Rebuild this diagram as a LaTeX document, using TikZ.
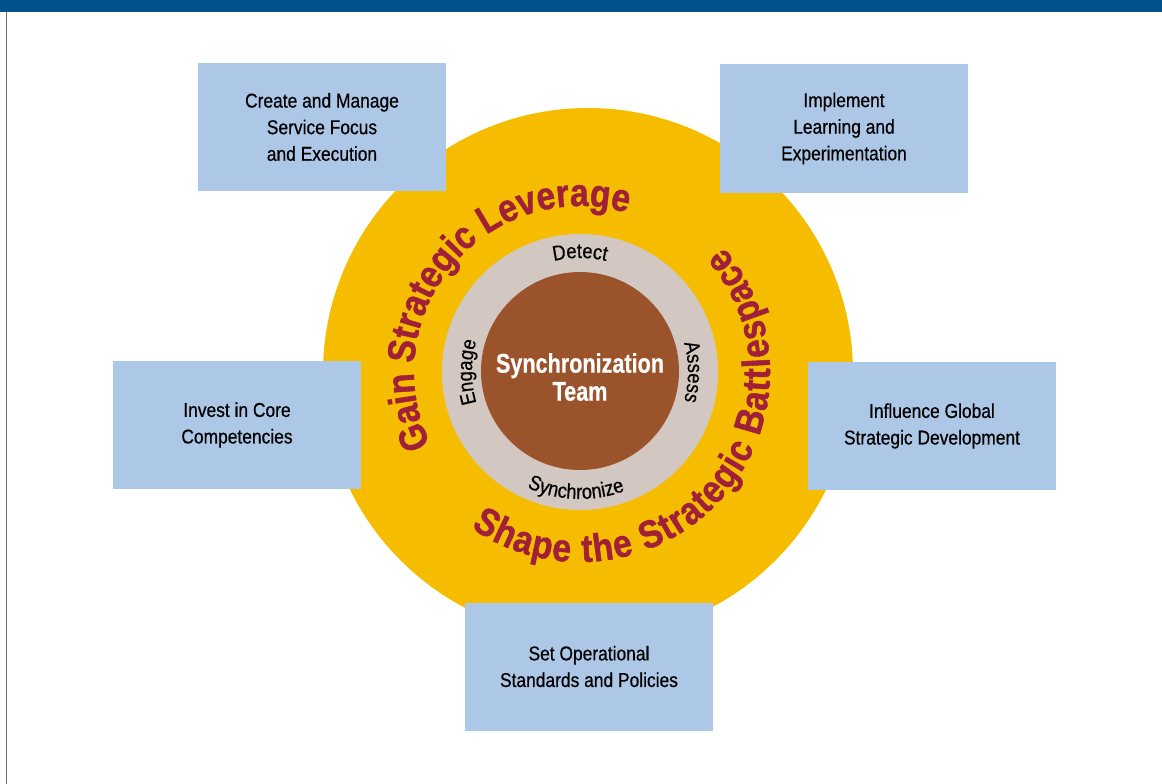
\documentclass[tikz,border=0pt]{standalone}
\usepackage{fontspec}
\setmainfont{Liberation Sans}[FakeStretch=0.87, FakeBold=0.5]
\newfontfamily\narrowfont{Liberation Sans}[FakeStretch=0.8, FakeBold=0.6]
\newfontfamily\arcfont{Liberation Sans}[FakeStretch=0.86, FakeBold=1.2]
\usetikzlibrary{decorations.text}
\definecolor{hdrblue}{HTML}{00538A}
\definecolor{ringyellow}{HTML}{F5BC00}
\definecolor{ringgray}{HTML}{D3C7C1}
\definecolor{corebrown}{HTML}{9B532C}
\definecolor{arcred}{HTML}{A0203A}
\definecolor{boxblue}{HTML}{ADC7E6}
\definecolor{borderline}{HTML}{6F6F6F}
\tikzset{
  infobox/.style={rectangle, fill=boxblue, minimum width=248pt, minimum height=128pt,
    inner sep=0pt, align=center, font=\fontsize{20}{26.6}\selectfont},
  disc/.style={circle, inner sep=0pt, draw=none},
  arctext/.style={decorate, decoration={text along path, text align={fit to path},
    text={|\arcfont\bfseries\fontsize{39}{39}\selectfont\color{arcred}|#1}}},
  ringtext/.style={decorate, decoration={text along path, text align={center},
    text={|\fontsize{21}{21}\selectfont\color{black}|#1}}}
}
\begin{document}
\begin{tikzpicture}[x=1pt,y=1pt]
\useasboundingbox (0,0) rectangle (1162,-784);
% header bar and frame line
\fill[hdrblue] (0,0) rectangle (1162,-12.5);
\draw[borderline, line width=1.6pt] (6.5,-12.5) -- (6.5,-784);
% circles
\node[disc, fill=ringyellow, minimum size=530pt] (outer) at (588,-373) {};
\node[disc, fill=ringgray, minimum size=276pt] (ring) at (580,-372) {};
\node[disc, fill=corebrown, minimum size=198pt] (core) at (580,-371) {};
\node[text=white, align=center, inner sep=0pt,
  font=\narrowfont\bfseries\fontsize{27}{28}\selectfont] (team) at (580,-377) {Synchronization\\Team};
% curved texts
\coordinate (c) at (580,-372);
\path[arctext={Gain Strategic Leverage}] (c) ++(206:166) arc[start angle=206, end angle=75, radius=166];
\path[arctext={Shape the Strategic Battlespace}] (c) ++(235:190) arc[start angle=235, end angle=401, radius=190];
\path[ringtext={Detect}] (c) ++(130:114) arc[start angle=130, end angle=50, radius=114];
\path[ringtext={Assess}] (c) ++(40:108) arc[start angle=40, end angle=-40, radius=108];
\path[ringtext={Engage}] (c) ++(220:108) arc[start angle=220, end angle=140, radius=108];
\path[ringtext={Synchronize}] (c) ++(223:127) arc[start angle=223, end angle=313, radius=127];
% boxes
\node[infobox] (create) at (322,-127) {Create and Manage\\Service Focus\\and Execution};
\node[infobox] (implement) at (844,-128.5) {Implement\\Learning and\\Experimentation};
\node[infobox] (invest) at (237,-425) {Invest in Core\\Competencies};
\node[infobox] (influence) at (932,-426) {Influence Global\\Strategic Development};
\node[infobox] (standards) at (589,-666.5) {Set Operational\\Standards and Policies};
\end{tikzpicture}
\end{document}
